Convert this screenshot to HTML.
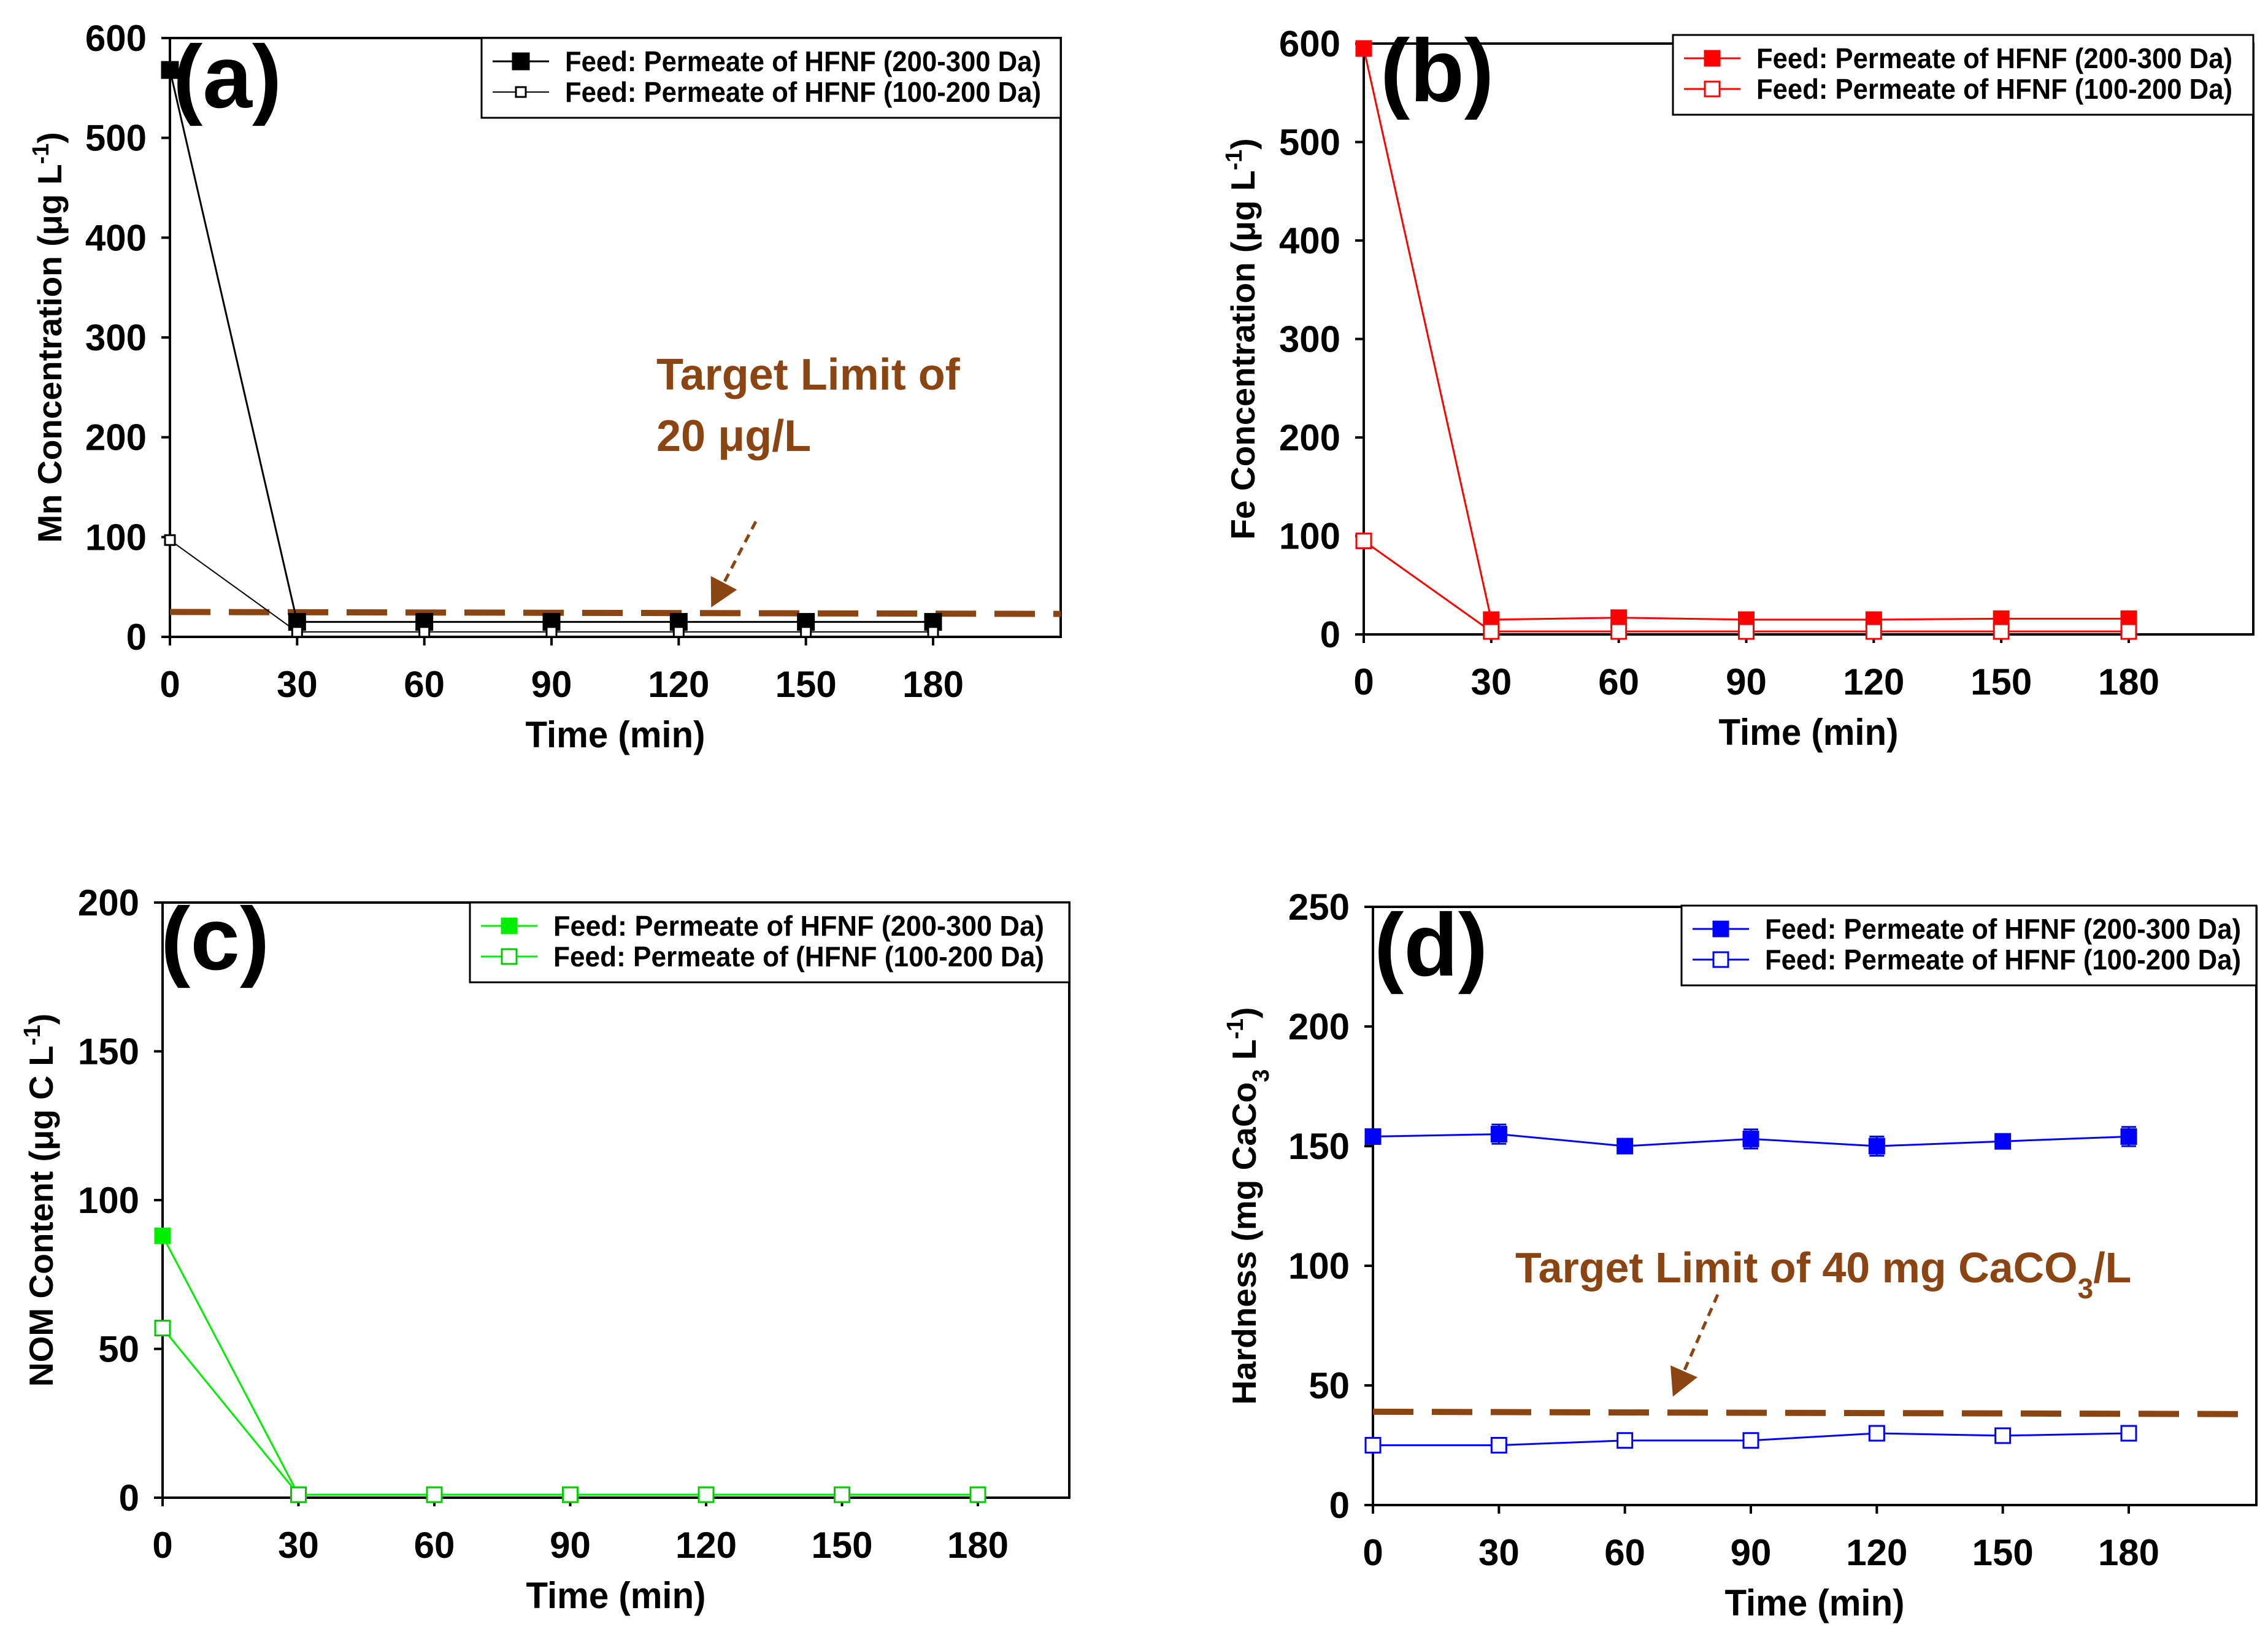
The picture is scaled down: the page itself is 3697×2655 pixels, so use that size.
<!DOCTYPE html>
<html><head><meta charset="utf-8"><style>
html,body{margin:0;padding:0;background:#fff}
svg{display:block}
text{font-family:"Liberation Sans",Arial,sans-serif;font-weight:bold}
.nar{font-family:"Liberation Sans Narrow","Liberation Sans",sans-serif;font-weight:bold}
.cal{font-family:"Liberation Sans Narrow","Liberation Sans",sans-serif;font-weight:bold}
</style></head><body>
<svg id="fig" xmlns="http://www.w3.org/2000/svg" width="3697" height="2655" viewBox="0 0 3697 2655"></svg>
<script>
const times = [0,30,60,90,120,150,180];
const mnHigh = [568,15,15,15,15,15,15];
const mnLow = [97,5,5,5,5,5,5];
const feHigh = [595,15,17,15,15,16,16];
const feLow = [95,3,3,3,3,3,3];
const nomHigh = [88,1,1,1,1,1,1];
const nomLow = [57,1,1,1,1,1,1];
const hardHigh = [154,155,150,153,150,152,154];
const hardHighErr = [3,4,2,4,4,3,4];
const hardLow = [25,25,27,27,30,29,30];
const hardLowErr = [3,3,2,3,2,2,3];
const xTicks = [0,30,60,90,120,150,180];
const yTicksA = [0,100,200,300,400,500,600];
const yTicksC = [0,50,100,150,200];
const yTicksD = [0,50,100,150,200,250];
const limitA = [25,23];
const limitD = [39,38];

const NS="http://www.w3.org/2000/svg";
const svg=document.getElementById('fig');
function el(tag,attrs,parent){const e=document.createElementNS(NS,tag);for(const k in attrs)e.setAttribute(k,attrs[k]);(parent||svg).appendChild(e);return e;}

function panel(cfg){
  const g=el('g',{});
  
  
  const L=cfg.L,T=cfg.T,R=cfg.R,B=cfg.B;
  const xs=v=>L+(cfg.x180-L)*v/180;
  const ys=v=>B-(B-T)*v/cfg.ymax;
  const frame=el('rect',{x:L,y:T,width:R-L,height:B-T,fill:'none',stroke:'#000','stroke-width':4},g);
  
  
  cfg.yticks.forEach(v=>{
    el('line',{x1:L-14,x2:L,y1:ys(v),y2:ys(v),stroke:'#000','stroke-width':4},g);
    const t=el('text',{x:L-38,y:ys(v)+21,'text-anchor':'end','font-size':60,class:'nar'},g);
    t.textContent=v;
    
    
  });
  xTicks.forEach(v=>{
    el('line',{x1:xs(v),x2:xs(v),y1:B,y2:B+14,stroke:'#000','stroke-width':4},g);
    const t=el('text',{x:xs(v),y:B+98,'text-anchor':'middle','font-size':60,class:'nar'},g);
    t.textContent=v;
    
    
  });
  const xt=el('text',{x:(L+R)/2,y:B+180,'text-anchor':'middle','font-size':60,class:'nar',textLength:293,lengthAdjust:'spacingAndGlyphs'},g);
  xt.textContent='Time (min)';
  
  
  const yt=el('text',{x:0,y:0,'text-anchor':'middle','font-size':55,transform:`translate(${cfg.ytx},${(T+B)/2}) rotate(-90)`},g);
  yt.innerHTML=cfg.ytitle;
  
  
  if(cfg.limit){
    const ll=el('line',{x1:L,x2:R,y1:ys(cfg.limit[0]),y2:ys(cfg.limit[1]),stroke:'#8B4513','stroke-width':10,'stroke-dasharray':'66 30'},g);
    
    
  }
  cfg.series.forEach(s=>{
    const pts=times.map((t,i)=>xs(t)+','+ys(s.v[i])).join(' ');
    const pl=el('polyline',{points:pts,fill:'none',stroke:cfg.color,'stroke-width':s.lw||3},g);
    
    
    times.forEach((t,i)=>{
      if(s.err){
        const e=s.err[i];
        el('line',{x1:xs(t),x2:xs(t),y1:ys(s.v[i]-e),y2:ys(s.v[i]+e),stroke:cfg.color,'stroke-width':3},g);
        el('line',{x1:xs(t)-12,x2:xs(t)+12,y1:ys(s.v[i]-e),y2:ys(s.v[i]-e),stroke:cfg.color,'stroke-width':3},g);
        el('line',{x1:xs(t)-12,x2:xs(t)+12,y1:ys(s.v[i]+e),y2:ys(s.v[i]+e),stroke:cfg.color,'stroke-width':3},g);
      }
      const m=s.size;
      const r=el('rect',{x:xs(t)-m/2,y:ys(s.v[i])-m/2,width:m,height:m,fill:s.filled?cfg.color:'#fff',stroke:s.filled?cfg.color:cfg.mstroke,'stroke-width':3},g);
      
      
    });
  });
  const lg=el('g',{},g);
  
  
  const lb=cfg.leg;
  el('rect',{x:lb[0],y:lb[1],width:lb[2]-lb[0],height:lb[3]-lb[1],fill:'#fff',stroke:'#000','stroke-width':3},lg);
  cfg.series.forEach((s,i)=>{
    const yy=lb[1]+38+i*50;
    el('line',{x1:lb[0]+18,x2:lb[0]+110,y1:yy,y2:yy,stroke:cfg.color,'stroke-width':s.lw||3},lg);
    const m=s.size;
    el('rect',{x:lb[0]+64-m/2,y:yy-m/2,width:m,height:m,fill:s.filled?cfg.color:'#fff',stroke:s.filled?cfg.color:cfg.mstroke,'stroke-width':3},lg);
    const t=el('text',{x:lb[0]+136,y:yy+16,'font-size':46,class:'nar',textLength:cfg.legW||776,lengthAdjust:'spacingAndGlyphs'},lg);
    t.textContent=s.label;
    
    
  });
  const pl=el('text',{x:cfg.plab[0],y:cfg.plab[1],'font-size':145},g);
  pl.textContent=cfg.plabel;
  
  
  return {g,xs,ys};
}

panel({name:'panel-a-mn',L:277,T:62,R:1729,B:1038,x180:1521,ymax:600,yticks:yTicksA,color:'#000',mstroke:'#000',
  ytitle:'Mn Concentration (μg L<tspan baseline-shift="super" font-size="38">-1</tspan>)',ytx:100,limit:limitA,
  series:[{name:'mn-200-300',v:mnHigh,filled:true,size:26,lw:3,label:'Feed: Permeate of HFNF (200-300 Da)'},
          {name:'mn-100-200',v:mnLow,filled:false,size:16,lw:2,label:'Feed: Permeate of HFNF (100-200 Da)'}],
  leg:[785,62,1729,192],plab:[282,175],plabel:'(a)'});
panel({name:'panel-b-fe',L:2223,T:71,R:3673,B:1034,x180:3470,ymax:600,yticks:yTicksA,color:'#ff0000',mstroke:'#ff0000',
  ytitle:'Fe Concentration (μg L<tspan baseline-shift="super" font-size="38">-1</tspan>)',ytx:2045,
  series:[{name:'fe-200-300',v:feHigh,filled:true,size:24,label:'Feed: Permeate of HFNF (200-300 Da)'},
          {name:'fe-100-200',v:feLow,filled:false,size:24,label:'Feed: Permeate of HFNF (100-200 Da)'}],
  leg:[2727,57,3673,187],plab:[2250,165],plabel:'(b)'});
panel({name:'panel-c-nom',L:265,T:1471,R:1743,B:2441,x180:1594,ymax:200,yticks:yTicksC,color:'#00ee00',mstroke:'#00cc00',
  ytitle:'NOM Content (μg C L<tspan baseline-shift="super" font-size="38">-1</tspan>)',ytx:86,
  series:[{name:'nom-200-300',v:nomHigh,filled:true,size:24,label:'Feed: Permeate of HFNF (200-300 Da)'},
          {name:'nom-100-200',v:nomLow,filled:false,size:24,label:'Feed: Permeate of (HFNF (100-200 Da)'}],
  leg:[766,1471,1743,1601],legW:800,plab:[262,1580],plabel:'(c)'});
panel({name:'panel-d-hardness',L:2238,T:1478,R:3678,B:2453,x180:3470,ymax:250,yticks:yTicksD,color:'#0000ff',mstroke:'#0000ff',
  ytitle:'Hardness (mg CaCo<tspan baseline-shift="sub" font-size="38">3</tspan><tspan baseline-shift="0"> L</tspan><tspan baseline-shift="super" font-size="38">-1</tspan>)',ytx:2047,limit:limitD,
  series:[{name:'hardness-200-300',v:hardHigh,err:hardHighErr,filled:true,size:24,label:'Feed: Permeate of HFNF (200-300 Da)'},
          {name:'hardness-100-200',v:hardLow,err:hardLowErr,filled:false,size:24,label:'Feed: Permeate of HFNF (100-200 Da)'}],
  leg:[2741,1476,3678,1606],plab:[2240,1590],plabel:'(d)'});

function arrow(x1,y1,x2,y2,name){
  const ln=el('line',{x1:x1,y1:y1,x2:x2,y2:y2,stroke:'#8B4513','stroke-width':5,'stroke-dasharray':'14 10'});
  
  
  const ang=Math.atan2(y2-y1,x2-x1),L=45,W=24;
  const bx=x2+L*Math.cos(ang),by=y2+L*Math.sin(ang);
  const px=-Math.sin(ang)*W,py=Math.cos(ang)*W;
  const h=el('polygon',{points:`${bx},${by} ${x2+px},${y2+py} ${x2-px},${y2-py}`,fill:'#8B4513'});
  
  
}
arrow(1232,850,1180,950,'arrow-a');
arrow(2800,2110,2745,2235,'arrow-d');
let t=el('text',{x:1070,y:635,'font-size':72,fill:'#8B4513',class:'cal'});
t.textContent='Target Limit of';


t=el('text',{x:1070,y:735,'font-size':72,fill:'#8B4513',class:'cal'});
t.textContent='20 μg/L';


t=el('text',{x:2470,y:2090,'font-size':70,fill:'#8B4513',class:'cal'});
t.innerHTML='Target Limit of 40 mg CaCO<tspan baseline-shift="sub" font-size="46">3</tspan><tspan baseline-shift="0">/L</tspan>';


</script>
</body></html>
